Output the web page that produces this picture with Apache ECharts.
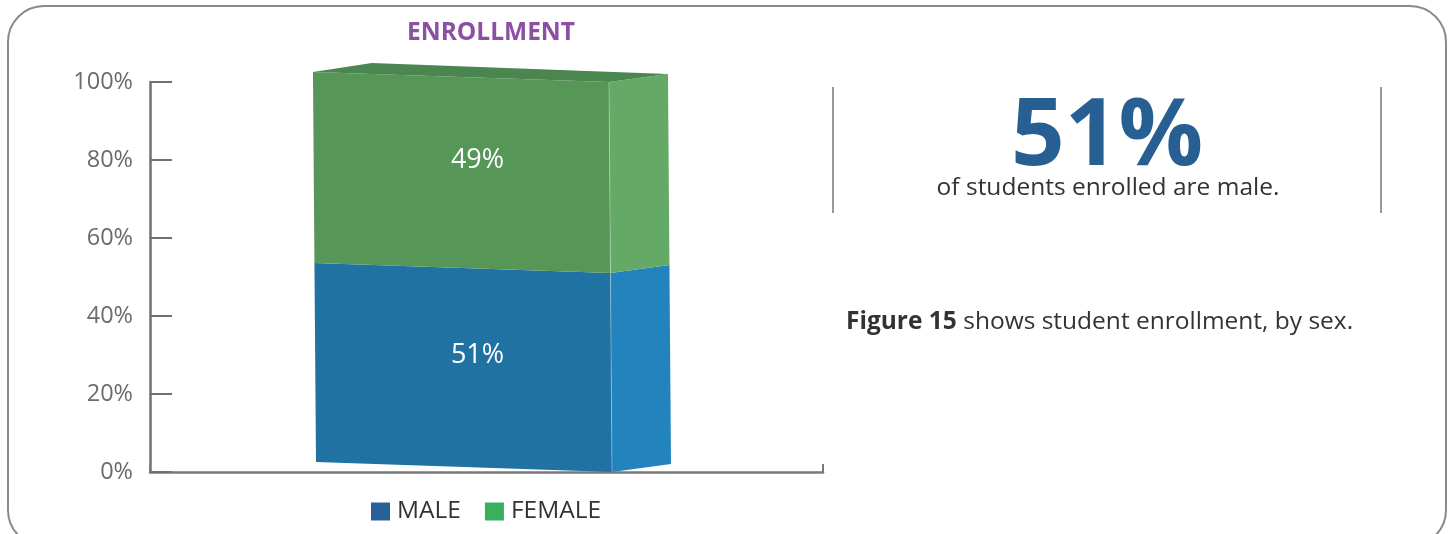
<!DOCTYPE html>
<html>
<head>
<meta charset="utf-8">
<script src="https://cdn.jsdelivr.net/npm/echarts@6/dist/echarts.min.js"></script>
<style>
html, body { margin: 0; padding: 0; background: #fff; }
#container { width: 1450px; height: 534px; }
</style>
</head>
<body>
<div id="container"></div>
<script>
// chart data
var categories = ['Enrollment'];
var sexes = ['MALE', 'FEMALE'];
var maleShare = [51];
var femaleShare = [49];
var yMax = 100;
var yStep = 20;

var FONT = '"Open Sans", "Noto Sans", sans-serif';

// face colours per series: front, side, top
var faces = {
    MALE: { front: '#1f72a1', side: '#2384bd', top: '#1d6a96', legend: '#28609a' },
    FEMALE: { front: '#569657', side: '#64a966', top: '#4b8650', legend: '#38b05f' }
};

// draws one stacked segment of the 3d box, from value lo up to hi
function makeRender(name, isTop) {
    var c = faces[name];
    return function (params, api) {
        var cat = api.value(0), lo = api.value(1), hi = api.value(2);
        var base = api.coord([cat, 0]);
        var cx = base[0], y0 = base[1];
        var yLo = api.coord([cat, lo])[1];
        var yHi = api.coord([cat, hi])[1];
        function px(xb, y) { return xb - (y0 - y) * 0.0078; }
        function FL(y) { return [px(cx - 170.5, y) , y - 10]; }
        function FR(y) { return [px(cx + 125.5, y), y]; }
        function SR(y) { return [px(cx + 184.5, y), y - 8]; }

        var kids = [
            { type: 'polygon', shape: { points: [FL(yLo), FR(yLo), FR(yHi), FL(yHi)] },
              style: { fill: c.front } },
            { type: 'polygon', shape: { points: [FR(yLo), SR(yLo), SR(yHi), FR(yHi)] },
              style: { fill: c.side } },
            { type: 'line', shape: { x1: FR(yLo)[0], y1: FR(yLo)[1], x2: FR(yHi)[0], y2: FR(yHi)[1] },
              style: { stroke: 'rgba(255,255,255,0.3)', lineWidth: 1 } }
        ];
        if (isTop) {
            var fl = FL(yHi);
            kids.push({ type: 'polygon',
                shape: { points: [fl, [fl[0] + 59, fl[1] - 9], SR(yHi), FR(yHi)] },
                style: { fill: c.top } });
        }
        var mid = api.coord([cat, (lo + hi) / 2])[1];
        kids.push({ type: 'text', style: {
            text: Math.round(hi - lo) + '%', x: cx - 9, y: mid - 17,
            fill: '#ffffff', fontSize: 27, fontFamily: FONT,
            align: 'center', verticalAlign: 'middle' } });
        return { type: 'group', children: kids };
    };
}

var maleData = categories.map(function (c, i) { return [i, 0, maleShare[i]]; });
var femaleData = categories.map(function (c, i) { return [i, maleShare[i], maleShare[i] + femaleShare[i]]; });

var myChart = echarts.init(document.getElementById('container'));
var option = {
    animation: false,
    textStyle: { fontFamily: FONT },
    grid: { left: 150, right: 627, top: 82, bottom: 62 },
    legend: {
        left: 366, top: 494,
        icon: 'rect', itemWidth: 19, itemHeight: 18, itemGap: 24,
        textStyle: { fontSize: 24.5, color: '#333', fontFamily: FONT, padding: [0, 0, 0, 2] },
        data: sexes
    },
    xAxis: {
        type: 'category',
        data: categories,
        axisLine: { lineStyle: { color: '#7a7a7a', width: 2.5 } },
        axisTick: { show: true, inside: true, length: 8, lineStyle: { color: '#7a7a7a', width: 2 } },
        axisLabel: { show: false },
        splitLine: { show: false }
    },
    yAxis: {
        type: 'value',
        min: 0, max: yMax, interval: yStep,
        axisLine: { show: true, lineStyle: { color: '#707070', width: 2.5 } },
        axisTick: { show: true, inside: true, length: 22, lineStyle: { color: '#707070', width: 2 } },
        axisLabel: { formatter: '{value}%', color: '#6b6b6b', fontSize: 23.5, margin: 17, fontFamily: FONT },
        splitLine: { show: false }
    },
    series: [
        {
            name: 'MALE', type: 'custom', renderItem: makeRender('MALE', false),
            itemStyle: { color: faces.MALE.legend },
            encode: { x: 0, y: [1, 2] }, data: maleData
        },
        {
            name: 'FEMALE', type: 'custom', renderItem: makeRender('FEMALE', true),
            itemStyle: { color: faces.FEMALE.legend },
            encode: { x: 0, y: [1, 2] }, data: femaleData
        }
    ],
    graphic: [
        { type: 'rect', shape: { x: 8, y: 6, width: 1438, height: 540, r: 36 },
          style: { fill: null, stroke: '#8a8a8a', lineWidth: 2 }, silent: true },
        { type: 'text', style: { text: 'ENROLLMENT', x: 491, y: 33, fill: '#8b4fa3',
          fontSize: 24.5, fontWeight: 'bold', fontFamily: FONT, align: 'center', verticalAlign: 'middle' } },
        { type: 'line', shape: { x1: 833, y1: 87, x2: 833, y2: 213 },
          style: { stroke: '#9a9a9a', lineWidth: 2 } },
        { type: 'line', shape: { x1: 1381, y1: 87, x2: 1381, y2: 213 },
          style: { stroke: '#9a9a9a', lineWidth: 2 } },
        { type: 'text', style: { text: maleShare[0] + '%', x: 1107, y: 138, fill: '#275f92',
          fontSize: 94, fontWeight: 'bold', fontFamily: FONT, align: 'center', verticalAlign: 'middle' } },
        { type: 'text', style: { text: 'of students enrolled are male.', x: 1108, y: 188, fill: '#333',
          fontSize: 24.5, fontFamily: FONT, align: 'center', verticalAlign: 'middle' } },
        { type: 'text', style: {
            text: '{b|Figure 15} shows student enrollment, by sex.', x: 846, y: 322,
            fill: '#333', fontSize: 24.5, fontFamily: FONT, align: 'left', verticalAlign: 'middle',
            rich: { b: { fontWeight: 'bold', fontSize: 24.5, fontFamily: FONT, fill: '#333' } } } }
    ]
};
myChart.setOption(option);
</script>
</body>
</html>
